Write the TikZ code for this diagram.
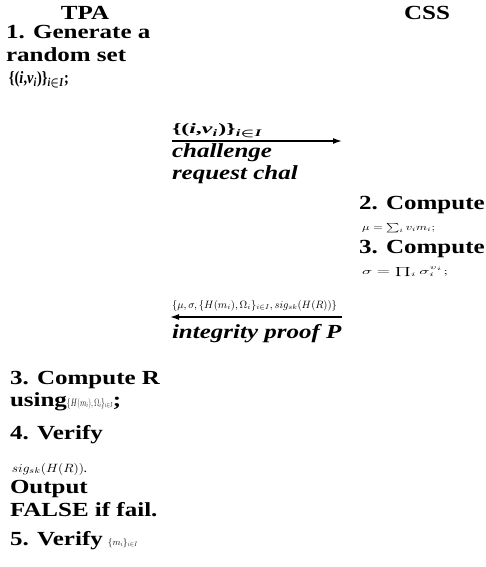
\documentclass[tikz,border=0pt]{standalone}
\usepackage{graphicx}
\usepackage{amsmath}
\usepackage{fontspec}
\setmainfont{Liberation Serif}
\usetikzlibrary{arrows.meta}
\newcommand{\sx}[1]{\scalebox{1.25}[1]{#1}}
\newcommand{\rw}[3]{\resizebox{#1pt}{#2pt}{#3}}
\newcommand{\setiv}{\bfseries\{(\textit{i},\textit{v}\textsubscript{\textit{i}})\}\textsubscript{\textit{i}$\boldsymbol{\in}$\textit{I}}}
\tikzset{
  txt/.style={anchor=base west, inner sep=0pt, outer sep=0pt},
  big/.style={txt, font=\fontsize{20}{22}\selectfont\bfseries},
  bigit/.style={txt, font=\fontsize{20}{22}\selectfont\bfseries\itshape},
  small/.style={txt, font=\fontsize{9}{10}\selectfont},
  msg/.style={line width=1.4pt, -{Latex[length=9pt,width=6pt]}},
}
\begin{document}
\begin{tikzpicture}[x=1pt, y=-1pt]
\useasboundingbox (0,0) rectangle (485,567);
% headers
\node[big, anchor=base] (tpa) at (85,20) {\sx{TPA}};
\node[big, anchor=base] (css) at (427,20) {\sx{CSS}};
% TPA step 1
\node[big] (g1) at (6,39) {\sx{1. Generate a}};
\node[big] (g2) at (6,62) {\sx{random set}};
\node[txt] (g3) at (9,84) {\rw{60}{12}{\setiv;}};
% challenge arrow
\coordinate (c1s) at (172,141);
\coordinate (c1e) at (342,141);
\draw[msg] (c1s) -- (c1e);
\node[txt] (l1) at (172,134) {\rw{91}{10}{\setiv}};
\node[bigit] (ch1) at (172,157) {\sx{challenge}};
\node[bigit] (ch2) at (172,179) {\sx{request chal}};
% CSS steps
\node[big] (s2) at (359,209) {\sx{2. Compute}};
\node[small] (m2) at (362,230) {\rw{73}{7}{$\mu=\sum_i v_i m_i;$}};
\node[big] (s3) at (359,253) {\sx{3. Compute}};
\node[small] (m3) at (362,274) {\rw{86}{7}{$\sigma=\prod_i \sigma_i^{v_i};$}};
% proof arrow
\coordinate (p1s) at (342,317);
\coordinate (p1e) at (170,317);
\node[small] (l2) at (172,308) {\rw{165}{8}{$\{\mu,\sigma,\{H(m_i),\Omega_i\}_{i\in I},sig_{sk}(H(R))\}$}};
\draw[msg] (p1s) -- (p1e);
\node[bigit] (pr) at (172,338) {\sx{integrity proof P}};
% TPA verification
\node[big] (v1) at (10,384) {\sx{3. Compute R}};
\node[big] (v2) at (10,406) {\sx{using}\rw{46}{8}{\mdseries$\{H(m_i),\Omega_i\}_{i\in I}$}\sx{;}};
\node[big] (v3) at (10,439) {\sx{4. Verify}};
\node[txt] (v4) at (12,472) {\rw{72}{9}{$sig_{sk}(H(R))$}\textbf{.}};
\node[big] (v5) at (10,493) {\sx{Output}};
\node[big] (v6) at (10,516) {\sx{FALSE if fail.}};
\node[big] (v7) at (10,545) {\sx{5. Verify} \rw{30}{7}{\mdseries$\{m_i\}_{i\in I}$}};
\end{tikzpicture}
\end{document}
